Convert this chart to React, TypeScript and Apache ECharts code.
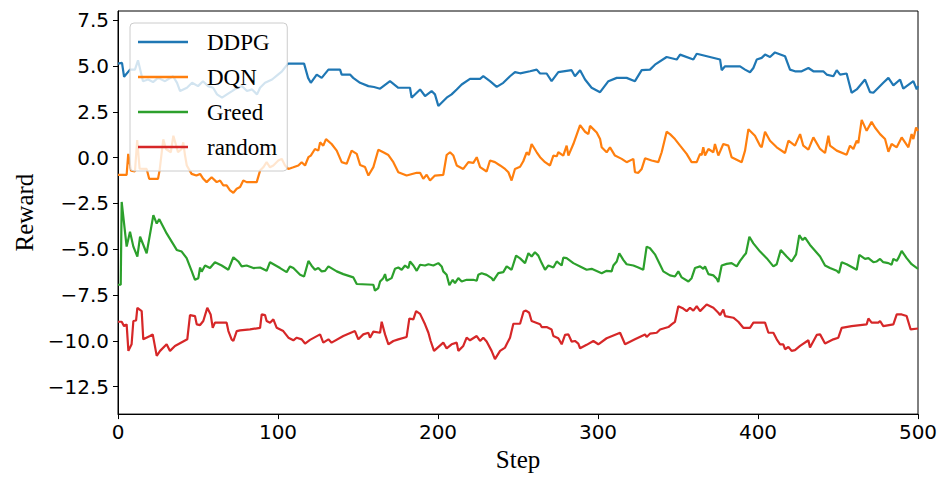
import React, { useEffect, useRef } from "react";
import * as echarts from "echarts";

const seriesNames = ["DDPG", "DQN", "Greed", "random"];
const seriesColors = ["#1f77b4", "#ff7f0e", "#2ca02c", "#d62728"];
const yTickValues = [-12.5, -10, -7.5, -5, -2.5, 0, 2.5, 5, 7.5];
const xTickValues = [0, 100, 200, 300, 400, 500];

const ddpg: number[][] = [
  [0, 5.13], [2.5, 5.17], [3.8, 4.41], [7.5, 4.8], [10.6, 4.8], [12.5, 5.31], [15.6, 4.17], [18.8, 4.26],
  [21.9, 4.12], [25, 4.35], [29.4, 4.17], [34.4, 4.44], [36.9, 4.08], [38.8, 3.63], [43.1, 3.81], [46.3, 4.08],
  [50, 3.9], [53.1, 4.17], [56.3, 3.9], [59.4, 3.81], [61.9, 3.45], [65, 3.27], [68.1, 3.45], [71.3, 3.63],
  [74.4, 3.81], [77.5, 3.9], [80.6, 3.63], [83.8, 3.72], [86.9, 3.45], [88.8, 3.81], [91.9, 4.08], [96.3, 4.26],
  [100, 4.53], [102.5, 4.71], [106.3, 5.13], [111.9, 5.13], [116.3, 5.13], [118.8, 4.35], [120.5, 4.08],
  [124.2, 4.53], [127.3, 4.35], [131.5, 4.8], [138.8, 4.8], [139.8, 4.53], [145, 4.53], [147, 4.35],
  [151.3, 4.08], [156.5, 3.9], [160, 3.85], [163.8, 3.76], [170, 4.17], [175.2, 3.81], [182.5, 3.81],
  [183.5, 3.27], [188.8, 3.72], [191.9, 3.36], [196, 3.63], [198.1, 3.45], [200.2, 2.82], [205.4, 3.27],
  [208.5, 3.45], [211.7, 3.72], [214.8, 3.99], [220, 4.3], [226.3, 4.3], [228.3, 4.44], [232.5, 4.17],
  [236.7, 3.86], [240.8, 4.08], [245, 4.44], [248.1, 4.66], [251.3, 4.6], [257.5, 4.71], [261.7, 4.8],
  [263.8, 4.59], [267.9, 4.59], [271, 4.17], [275.2, 4.66], [283.5, 4.77], [285.6, 4.44], [288.8, 4.77],
  [291.9, 4.26], [296, 3.81], [301.3, 3.57], [306.5, 4.17], [311.7, 4.35], [317.9, 4.35], [323.1, 4.17],
  [327.3, 4.77], [332.5, 4.8], [335.6, 5.07], [342.9, 5.49], [349.2, 5.35], [351.3, 5.62], [359.6, 5.35],
  [361.7, 5.67], [376.3, 5.35], [377.3, 4.77], [379.4, 4.98], [388.8, 4.98], [391.9, 4.8], [395, 4.66],
  [397.1, 4.89], [399.2, 5.35], [402.3, 5.44], [404.4, 5.62], [407.5, 5.49], [410.6, 5.74], [416.9, 5.53],
  [420, 4.8], [423.1, 4.71], [427.3, 4.71], [431.5, 4.89], [434.6, 4.71], [440.8, 4.71], [442.9, 4.53],
  [447.1, 4.44], [449.2, 4.77], [451.3, 4.53], [455.4, 4.59], [458.5, 3.54], [461.7, 3.72], [466.9, 4.26],
  [470, 3.57], [472.1, 3.54], [478.3, 4.08], [481.5, 4.35], [484.6, 3.94], [488.8, 4.26], [490.8, 3.76],
  [497.1, 4.17], [499.2, 3.72], [500, 3.9],
];

const dqn: number[][] = [
  [0, -0.94], [5.4, -0.94], [6.4, 0.2], [8.1, -0.71], [10.6, -0.76], [12, 0.95], [13.5, -0.6], [17.9, -0.62],
  [19.5, -1.16], [25, -1.16], [26, -0.7], [28.3, 1.0], [30, 0.47], [33, 0.29], [34.6, 1.19], [37.5, 0.3],
  [39.8, 0.47], [40.8, 0.83], [41.9, 0.11], [43, -0.43], [46, -0.89], [49, -0.98], [51.3, -0.89], [53.3, -1.16],
  [55.4, -1.34], [58.5, -1.07], [61.7, -1.34], [63.8, -1.25], [65.8, -1.52], [67.9, -1.52], [70, -1.79],
  [72.1, -1.92], [74.2, -1.7], [76.3, -1.61], [78.3, -1.25], [80.4, -1.34], [86.7, -1.34], [88.8, -0.71],
  [90.8, -0.53], [92.9, -0.25], [95, -0.53], [97.1, -0.43], [100.2, -0.16], [102.3, -0.07], [104.4, -0.43],
  [106.5, -0.62], [109.6, -0.53], [112.7, -0.43], [114.8, -0.25], [116.9, -0.43], [119, 0.02], [120.5, 0.11],
  [123.1, 0.47], [125.2, 0.38], [126.3, 0.83], [128.3, 0.65], [130, 1.01], [133.5, 0.74], [136.7, 0.38],
  [139.8, -0.25], [142.9, -0.34], [146, 0.38], [149.2, 0.2], [151.3, -0.4], [154.4, -0.52], [156.5, -0.98],
  [159.6, -0.52], [162.7, 0.43], [165.8, 0.29], [169, 0.14], [172.1, -0.25], [175.2, -0.8], [180.4, -0.98],
  [186.7, -0.83], [188.8, -0.83], [190.8, -1.16], [192.9, -0.94], [195, -1.25], [198.1, -0.98], [203.3, -0.94],
  [205.4, 0.14], [207.5, 0.29], [209.6, 0.11], [211.7, -0.43], [215.8, -0.62], [219, -0.25], [222.1, -0.29],
  [224.2, 0.02], [226.3, -0.52], [230.4, -0.76], [232.5, -0.16], [235.6, -0.25], [238.8, -0.43], [241.9, -0.62],
  [244, -0.8], [246, -1.25], [248.1, -0.62], [251.3, -0.5], [253.3, -0.2], [255.4, 0.29], [256.8, 0.14],
  [258.5, 0.74], [261.7, 0.29], [263.8, 0.02], [266.9, -0.25], [270, -0.43], [272.1, 0.11], [274.2, 0.07],
  [275.2, 0.29], [278.3, 0.11], [280.4, 0.65], [281.5, 0.11], [284.6, 0.74], [288.8, 1.77], [291.9, 1.41],
  [294, 1.28], [295, 1.73], [299.2, 1.37], [301.3, 1.01], [302.3, 0.56], [305.4, 0.29], [307.5, 0.56],
  [310.6, 0.11], [314.8, -0.07], [317.9, -0.25], [322.1, -0.07], [323.1, -0.8], [325.2, -0.83], [327.3, -0.62],
  [329.4, -0.04], [333.5, -0.16], [337.7, -0.25], [339.8, 0.29], [342.9, 1.41], [345, 1.28], [348.1, 1.01],
  [351.3, 0.65], [355.4, 0.2], [358.5, -0.25], [361.7, -0.25], [363.8, 0.2], [364.8, 0.14], [365.8, 0.56],
  [366.9, 0.11], [369, 0.47], [372.1, 0.29], [373.1, 0.74], [375.2, 0.11], [378.3, 0.74], [381.5, 0.65],
  [383.5, 0.02], [389.8, -0.25], [391.9, 0.38], [394, 1.55], [398.1, 1.19], [401.3, 0.65], [402.3, 0.56],
  [404.4, 1.41], [407.5, 0.92], [411.7, 0.56], [416.9, 0.25], [419, 0.92], [423.1, 0.65], [426.3, 1.28],
  [428.3, 0.65], [431.5, 0.43], [434.6, 1.1], [438.8, 0.47], [441.9, 0.25], [444, 1.19], [445, 0.65],
  [449.2, 0.38], [455.4, 0.16], [457.5, 0.65], [459.6, 0.47], [461.7, 0.92], [462.7, 0.79], [464.8, 2.06],
  [467.9, 1.46], [471, 1.95], [473.1, 1.64], [476.3, 1.28], [479.4, 1.01], [481.5, 0.32], [483.5, 0.74],
  [486.7, 0.56], [489.8, 1.1], [494, 0.56], [496, 1.28], [497.1, 1.01], [498.8, 1.64], [500, 1.46],
];

const greed: number[][] = [
  [0, -6.94], [1.7, -6.94], [2.3, -2.42], [5.4, -4.86], [7.5, -4.05], [9.6, -4.86], [12.1, -5.4], [13.8, -4.32],
  [17.9, -5.22], [22.1, -3.14], [24.2, -3.6], [25.8, -3.36], [30.4, -4.14], [36.7, -5.04], [39.8, -5.13],
  [42.9, -5.49], [46, -6.18], [48.1, -6.67], [50.2, -6.58], [51.3, -6.0], [52.3, -6.23], [54.4, -5.89],
  [57.5, -6.03], [60.6, -5.71], [64.8, -5.89], [69, -6.12], [72.1, -5.44], [75.2, -5.67], [77.3, -5.94],
  [80.4, -5.89], [84.6, -6.03], [88.8, -6.0], [92.9, -6.18], [95, -5.71], [101.3, -6.03], [105.4, -6.25],
  [107.5, -5.94], [109.6, -6.03], [113.8, -6.4], [116.3, -6.49], [119, -5.64], [121, -5.9], [123.1, -6.12],
  [125.2, -6.03], [127.3, -6.21], [129.4, -6.18], [131.5, -5.94], [136.7, -6.21], [140.8, -6.36], [147.1, -6.54],
  [149.2, -6.9], [159.6, -6.94], [160.6, -7.26], [162.7, -7.12], [163.8, -6.76], [165.8, -6.58], [166.9, -6.36],
  [167.9, -6.72], [171, -6.58], [173.1, -6.07], [175.2, -6.0], [177.3, -6.12], [179.4, -5.89], [181.5, -6.03],
  [182.5, -5.67], [184.6, -5.89], [186.7, -6.18], [188.8, -5.85], [191.9, -5.89], [194, -5.82], [197.1, -5.89],
  [200.2, -5.76], [202.3, -5.94], [203.3, -6.21], [205.4, -6.4], [207.1, -6.97], [209.2, -6.67], [210.6, -6.85],
  [212.7, -6.58], [214.8, -6.76], [217.9, -6.67], [222.1, -6.67], [224.2, -6.72], [225.2, -6.4], [227.3, -6.31],
  [230.4, -6.4], [233.5, -6.58], [234.6, -6.72], [237.7, -6.31], [240.8, -6.25], [242.9, -5.94], [246, -6.12],
  [248.8, -5.35], [251.3, -5.5], [254.4, -5.76], [256.5, -5.22], [258.5, -5.4], [260.6, -5.17], [262.7, -5.35],
  [264.8, -5.76], [266.9, -6.12], [269, -5.89], [272.1, -6.0], [274.2, -5.67], [277.3, -5.89], [278.3, -5.46],
  [280.4, -5.49], [284.6, -5.76], [288.8, -5.94], [292.9, -6.12], [296, -6.07], [302.3, -6.31], [305.4, -6.18],
  [308.5, -6.21], [309.6, -5.89], [311.7, -5.67], [313.3, -5.22], [315.8, -5.58], [317.9, -5.82], [322.1, -5.89],
  [325.2, -6.0], [328.3, -6.12], [330.4, -4.86], [332.5, -4.95], [335.6, -5.28], [338.8, -5.85], [340.8, -6.21],
  [345, -6.43], [348.1, -6.49], [350.2, -6.21], [352.3, -6.54], [356.5, -6.76], [358.5, -6.58], [360.6, -6.03],
  [363.8, -5.94], [365.8, -6.07], [366.9, -5.94], [369, -6.36], [372.1, -6.43], [374.2, -6.61], [375.2, -6.79],
  [377.3, -5.89], [380.4, -5.8], [383.5, -5.76], [386.7, -5.94], [388.8, -5.64], [390.8, -5.4], [392.5, -5.22],
  [394.6, -4.32], [397.1, -4.68], [401.3, -5.13], [405.4, -5.49], [409.6, -5.94], [411.7, -5.82], [414.2, -5.04],
  [417.9, -5.4], [421, -5.67], [423.8, -5.28], [425.8, -4.23], [427.9, -4.5], [429.4, -4.37], [432.5, -4.77],
  [438.8, -5.4], [441.9, -5.89], [445, -6.03], [449.2, -6.18], [450.6, -6.3], [452.3, -5.71], [455.4, -5.82],
  [461.7, -6.12], [463.3, -5.31], [466.9, -5.53], [469, -5.49], [472.1, -5.71], [474.2, -5.67], [476.3, -5.53],
  [478.3, -5.71], [481.5, -5.76], [483.5, -5.85], [484.6, -5.53], [486.7, -5.64], [487.7, -5.49], [489.8, -5.09],
  [492.9, -5.49], [496, -5.82], [500, -6.07],
];

const randomPolicy: number[][] = [
  [0, -8.96], [2.3, -8.96], [3.8, -9.2], [5.4, -9.1], [6.5, -10.55], [8.5, -10.19], [9.6, -8.92], [11.3, -8.89],
  [12.1, -8.2], [14.8, -8.38], [15.8, -9.92], [20, -9.74], [21.7, -9.65], [24.2, -10.82], [26.3, -10.55],
  [30.4, -10.19], [32.5, -10.55], [35.6, -10.28], [43.3, -9.92], [45, -8.6], [48.1, -8.65], [49.2, -9.1],
  [51.3, -9.14], [53.3, -8.92], [55.8, -8.2], [57.9, -8.56], [59.2, -9.29], [60.6, -9.01], [67.9, -9.01],
  [69, -9.47], [71, -9.92], [72.1, -10.01], [74.2, -9.47], [76.3, -9.43], [82.5, -9.38], [88.8, -9.29],
  [89.8, -8.56], [91.9, -8.6], [92.9, -8.92], [95, -9.01], [97.1, -8.83], [99.2, -9.29], [103.3, -9.47],
  [106.5, -9.83], [109.6, -9.97], [111.7, -9.83], [114.8, -9.92], [116.9, -10.15], [120, -9.95], [126.3, -9.65],
  [128.3, -10.1], [131.5, -9.92], [133.5, -10.1], [140.8, -9.74], [148.1, -9.47], [150.2, -9.92], [153.3, -9.65],
  [156.5, -9.56], [157.5, -9.83], [159.6, -9.5], [163.8, -9.56], [164.8, -8.96], [166.9, -9.65], [169, -10.19],
  [172.1, -10.01], [175.2, -9.92], [180.4, -9.79], [182.1, -8.78], [184.6, -8.83], [186.3, -8.38], [188.8, -8.53],
  [191.9, -9.1], [194, -9.56], [195.4, -10.01], [197.5, -10.55], [203.3, -10.1], [205.4, -10.41], [208.5, -10.19],
  [211.7, -10.1], [212.7, -10.55], [215.8, -10.28], [217.9, -9.83], [220, -9.97], [224.2, -9.74], [226.3, -10.01],
  [228.3, -9.83], [230.4, -10.04], [233.5, -10.55], [235.6, -11.0], [238.8, -10.55], [241.9, -10.37],
  [242.9, -10.19], [245, -9.83], [247.1, -9.07], [251.3, -9.07], [253.5, -8.4], [255, -8.35], [257, -8.47],
  [258.5, -8.92], [263.8, -9.1], [264.8, -9.25], [267.9, -9.25], [271, -9.38], [272.1, -9.74], [275.2, -9.86],
  [277.3, -10.19], [279.4, -9.68], [281.5, -9.65], [283.5, -10.04], [285.6, -10.01], [287.7, -10.15],
  [288.8, -10.41], [292.9, -10.22], [297.1, -10.01], [300.2, -10.19], [305.4, -9.86], [313.8, -9.56],
  [316.9, -10.19], [323.1, -9.92], [329.4, -9.65], [330.4, -9.79], [332.5, -9.61], [336.7, -9.56], [338.8, -9.38],
  [344, -9.25], [346, -9.1], [348.1, -8.96], [350.2, -8.11], [353.3, -8.24], [355.4, -8.38], [357.5, -8.2],
  [359.6, -8.35], [361.7, -8.11], [363.8, -8.38], [367.9, -8.02], [372.1, -8.2], [375.2, -8.47], [376.3, -8.6],
  [378.3, -8.29], [379.4, -8.65], [384.6, -8.74], [387.7, -8.96], [390.8, -9.29], [395, -9.29], [397.1, -9.01],
  [404.4, -9.01], [406.5, -9.56], [409.6, -9.56], [411.7, -9.92], [413.8, -10.19], [415.8, -10.19],
  [416.9, -10.46], [419, -10.33], [421, -10.55], [423.1, -10.51], [426.3, -10.28], [431.5, -9.97], [432.5, -10.37],
  [436.7, -9.68], [438.8, -9.65], [441.9, -10.15], [447.1, -9.92], [450.2, -9.83], [452.3, -9.29], [458.5, -9.2],
  [467.9, -9.1], [469, -8.78], [471, -9.01], [475.2, -9.01], [476.3, -8.92], [478.3, -9.2], [484.6, -9.1],
  [486.7, -8.56], [489.8, -8.56], [492.9, -8.65], [495.4, -9.38], [500, -9.33],
];

const seriesData = [ddpg, dqn, greed, randomPolicy];

const tickFont = "'DejaVu Sans', sans-serif";
const serifFont = "'Liberation Serif', 'Times New Roman', serif";

export default function App() {
  const ref = useRef<HTMLDivElement>(null);
  useEffect(() => {
    if (!ref.current) return;
    const chart = echarts.init(ref.current, undefined, { renderer: "svg" });
    chart.setOption({
      animation: false,
      backgroundColor: "#ffffff",
      grid: {
        left: 118,
        right: 27,
        top: 11,
        bottom: 60,
        show: true,
        borderColor: "#000",
        borderWidth: 1,
        backgroundColor: "transparent",
      },
      legend: {
        orient: "vertical",
        left: 130,
        top: 23,
        padding: [6, 10, 11, 8],
        itemWidth: 50,
        itemHeight: 2.5,
        itemGap: 9,
        icon: "rect",
        backgroundColor: "rgba(255,255,255,0.8)",
        borderColor: "#cccccc",
        borderWidth: 1,
        borderRadius: 4,
        textStyle: {
          fontFamily: serifFont,
          fontSize: 23,
          color: "#000",
          lineHeight: 26,
          padding: [0, 0, 0, 14],
        },
      },
      xAxis: {
        type: "value",
        min: 0,
        max: 500,
        interval: 100,
        name: "Step",
        nameLocation: "middle",
        nameGap: 31,
        nameTextStyle: { fontFamily: serifFont, fontSize: 25, color: "#000" },
        axisLine: { show: true, onZero: false, lineStyle: { color: "#000", width: 1 } },
        axisTick: { show: true, length: 5, inside: false, lineStyle: { color: "#000" }, customValues: xTickValues },
        axisLabel: {
          fontFamily: tickFont,
          fontSize: 20,
          color: "#000",
          margin: 8,
          customValues: xTickValues,
          formatter: (v: number) => String(v),
        },
        splitLine: { show: false },
      },
      yAxis: {
        type: "value",
        min: -14,
        max: 8,
        name: "Reward",
        nameLocation: "middle",
        nameGap: 81,
        nameTextStyle: { fontFamily: serifFont, fontSize: 25, color: "#000" },
        axisLine: { show: true, onZero: false, lineStyle: { color: "#000", width: 1 } },
        axisTick: { show: true, length: 5, inside: false, lineStyle: { color: "#000" }, customValues: yTickValues },
        axisLabel: {
          fontFamily: tickFont,
          fontSize: 20,
          color: "#000",
          margin: 9,
          customValues: yTickValues,
          formatter: (v: number) => (v < 0 ? "\u2212" : "") + Math.abs(v).toFixed(1),
        },
        splitLine: { show: false },
      },
      series: seriesNames.map((name, i) => ({
        name,
        type: "line",
        data: seriesData[i],
        symbol: "none",
        showSymbol: false,
        color: seriesColors[i],
        itemStyle: { color: seriesColors[i] },
        lineStyle: { width: 2.2, color: seriesColors[i] },
        z: 2,
      })),
    });
    return () => chart.dispose();
  }, []);
  return (
    <div
      ref={ref}
      style={{ position: "absolute", left: 0, top: 0, width: 945, height: 477, background: "#fff" }}
    />
  );
}
